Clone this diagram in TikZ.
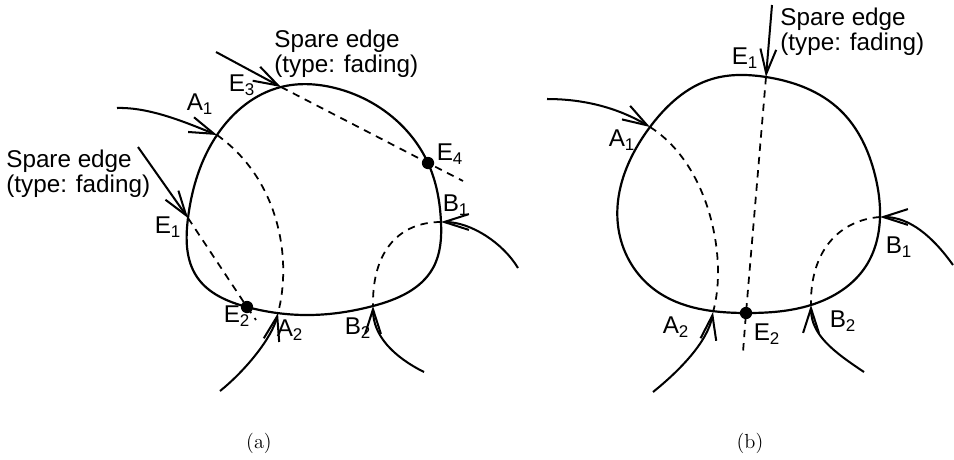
\documentclass[tikz,border=0pt]{standalone}
\usepackage{fontspec}
\setsansfont{Liberation Sans}
\usepackage{tikz}
\usetikzlibrary{arrows.meta, hobby}

\begin{document}
\begin{tikzpicture}[x=0.02cm, y=-0.02cm,
  ring/.style={line width=1.25pt, use Hobby shortcut, closed=true},
  feed/.style={line width=1.15pt, -{Straight Barb[length=14pt,width=9pt]}},
  hid/.style={line width=1pt, dash pattern=on 4.2pt off 3.4pt},
  junc/.style={circle, fill, inner sep=0pt, minimum size=7pt},
  lbl/.style={font=\sffamily\fontsize{13.8}{14.4}\selectfont, inner sep=0pt},
  note/.style={lbl, align=left, anchor=west},
  capt/.style={font=\fontsize{11.6}{14}\selectfont, inner sep=0pt}]
  \useasboundingbox (0,0) rectangle (954,460);

  % (a)
  \coordinate (aE3) at (281,87);  \coordinate (aE4) at (428,163);
  \coordinate (aB1) at (441,222); \coordinate (aB2) at (373,306);
  \coordinate (aA2) at (278,313); \coordinate (aE2) at (247,307);
  \coordinate (aE1) at (188,218); \coordinate (aA1) at (217,135);
  \coordinate (aA1s) at (117,108); \coordinate (aE1s) at (138,147);
  \coordinate (aE3s) at (216,52);  \coordinate (aB1s) at (518,268);
  \coordinate (aB2s) at (424,372); \coordinate (aA2s) at (220,391);
  \coordinate (aE2x) at (256,320); \coordinate (aE4x) at (463,181);

  \draw[ring] (aE3) .. (335,88) .. (390,115) .. (aE4) .. (aB1) .. (433,268) .. (aB2) .. (310,315) .. (aE2) .. (197,277) .. (aE1) .. (aA1);
  \draw[hid] (aA1) .. controls +(63,45) and +(14,-53) .. (aA2);
  \draw[hid] (aB1) .. controls +(-41,0) and +(-1,-56) .. (aB2);
  \draw[hid] (aE1) -- (aE2) -- (aE2x);
  \draw[hid] (aE3) -- (aE4) -- (aE4x);
  \draw[feed] (aA1s) .. controls +(33,-1) and +(-30,-12) .. (aA1);
  \draw[feed] (aE1s) -- (aE1);
  \draw[feed] (aE3s) -- (aE3);
  \draw[feed] (aB1s) .. controls +(-15,-25) and +(30,0) .. (aB1);
  \draw[feed] (aB2s) .. controls +(-30,-15) and +(0,30) .. (aB2);
  \draw[feed] (aA2s) .. controls +(25,-20) and +(-6,25) .. (aA2);
  \node[junc] (aE4d) at (aE4) {};
  \node[junc] (aE2d) at (aE2) {};

  \node[note] (aspare1) at (274,54) {Spare edge\\(type: fading)};
  \node[note] (aspare2) at (6,174) {Spare edge\\(type: fading)};
  \node[lbl] (laA1) at (200,104) {A\textsubscript{1}};
  \node[lbl] (laE3) at (242,85) {E\textsubscript{3}};
  \node[lbl] (laE1) at (168,227) {E\textsubscript{1}};
  \node[lbl] (laE4) at (450,154) {E\textsubscript{4}};
  \node[lbl] (laB1) at (456,205) {B\textsubscript{1}};
  \node[lbl] (laE2) at (237,316) {E\textsubscript{2}};
  \node[lbl] (laA2) at (290,330) {A\textsubscript{2}};
  \node[lbl] (laB2) at (358,328) {B\textsubscript{2}};
  \node[capt] (capa) at (259,443) {(a)};

  % (b)
  \coordinate (bE1) at (766,77);  \coordinate (bA1) at (650,127);
  \coordinate (bB1) at (880,217); \coordinate (bB2) at (811,305);
  \coordinate (bE2) at (746,313); \coordinate (bA2) at (713,312);
  \coordinate (bE1s) at (772,5);   \coordinate (bA1s) at (547,99);
  \coordinate (bB1s) at (953,265); \coordinate (bB2s) at (864,372);
  \coordinate (bA2s) at (653,392); \coordinate (bE2x) at (743,352);

  \draw[ring] (bE1) .. (840,110) .. (875,175) .. (bB1) .. (866,266) .. (bB2) .. (bE2) .. (655,290) .. (619,232) .. (bA1) .. (712,79);
  \draw[hid] (bA1) .. controls +(60,38) and +(15,-52) .. (bA2);
  \draw[hid] (bB1) .. controls +(-40,3) and +(-1,-55) .. (bB2);
  \draw[hid] (bE1) -- (bE2) -- (bE2x);
  \draw[feed] (bE1s) -- (bE1);
  \draw[feed] (bA1s) .. controls +(45,0) and +(-25,-15) .. (bA1);
  \draw[feed] (bB1s) .. controls +(-20,-28) and +(30,0) .. (bB1);
  \draw[feed] (bB2s) .. controls +(-30,-20) and +(0,30) .. (bB2);
  \draw[feed] (bA2s) .. controls +(25,-20) and +(-5,30) .. (bA2);
  \node[junc] (bE2d) at (bE2) {};

  \node[note] (bspare) at (780,32) {Spare edge\\(type: fading)};
  \node[lbl] (lbE1) at (745,58) {E\textsubscript{1}};
  \node[lbl] (lbA1) at (622,140) {A\textsubscript{1}};
  \node[lbl] (lbB1) at (899,247) {B\textsubscript{1}};
  \node[lbl] (lbA2) at (676,327) {A\textsubscript{2}};
  \node[lbl] (lbE2) at (767,334) {E\textsubscript{2}};
  \node[lbl] (lbB2) at (843,321) {B\textsubscript{2}};
  \node[capt] (capb) at (750,443) {(b)};
\end{tikzpicture}
\end{document}
